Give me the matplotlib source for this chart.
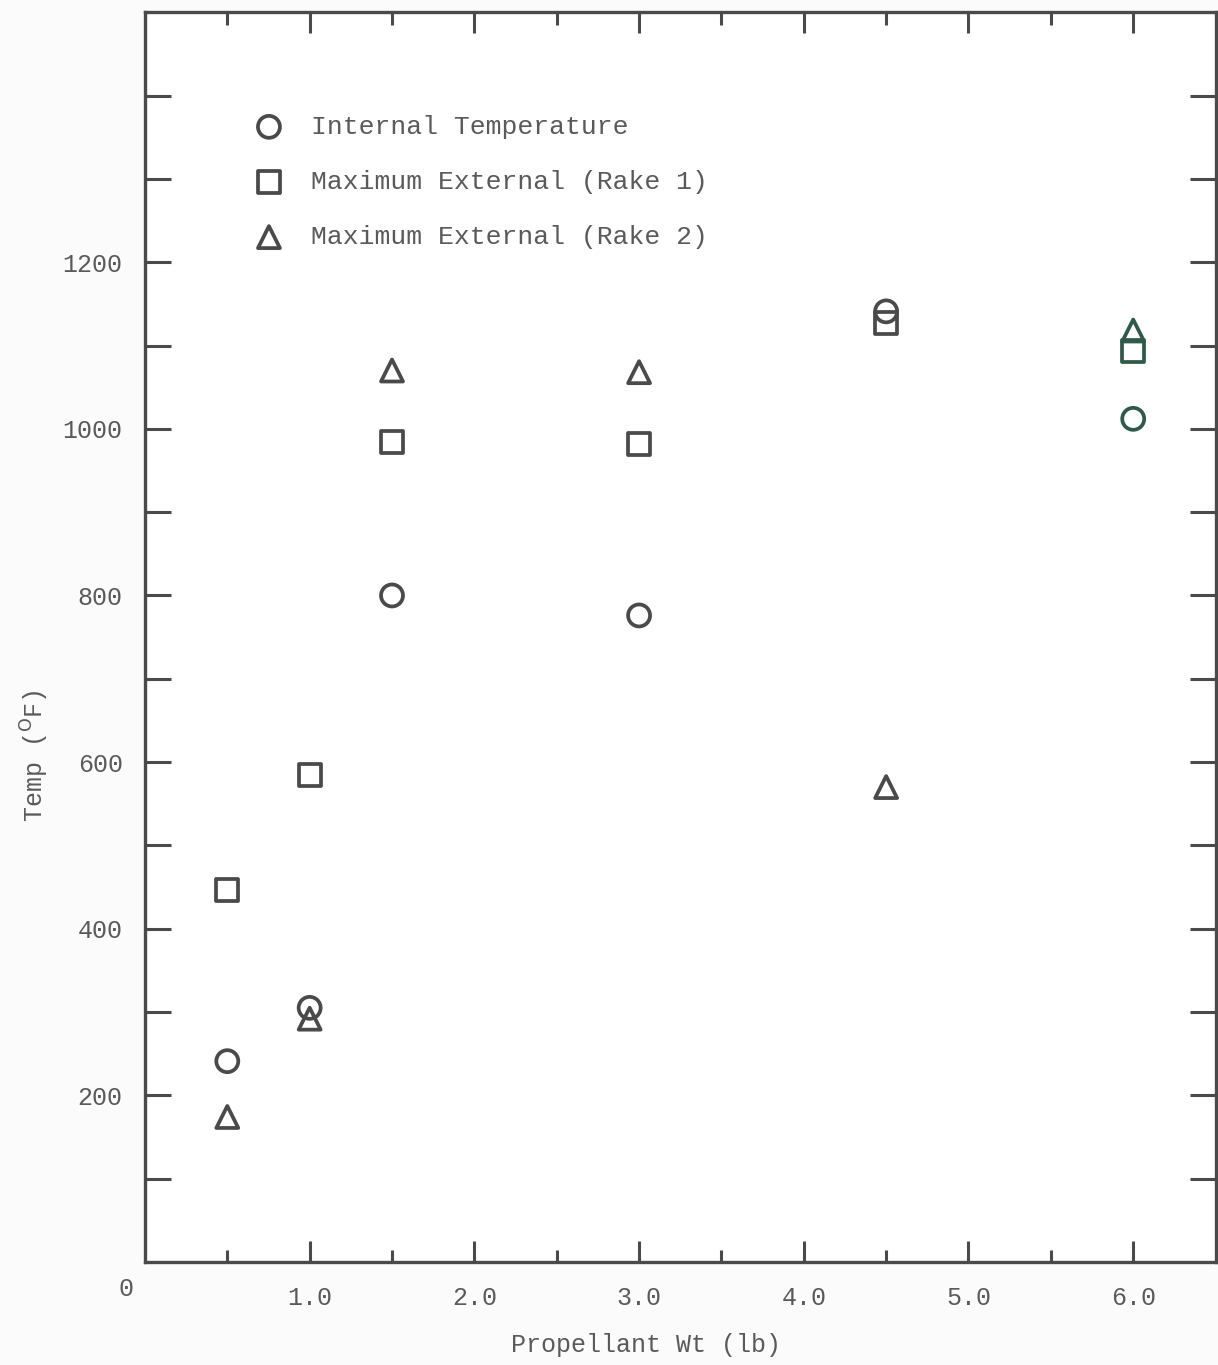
import matplotlib.pyplot as plt
import numpy as np

plt.rcParams['font.family'] = ['Liberation Mono', 'DejaVu Sans Mono']

wt = np.array([0.5, 1.0, 1.5, 3.0, 4.5, 6.0])
internal = np.array([241, 305, 800, 776, 1141, 1012])
rake1 = np.array([446, 584, 984, 982, 1127, 1094])
rake2 = np.array([174, 292, 1070, 1068, 570, 1118])
labels = ['Internal Temperature', 'Maximum External (Rake 1)', 'Maximum External (Rake 2)']
xticklabels = ['1.0', '2.0', '3.0', '4.0', '5.0', '6.0']

grey = '#4a4a4a'
green = '#2f5a4a'
txt = '#5a5a5a'
pt_colors = [grey, grey, grey, grey, grey, green]

fig = plt.figure(figsize=(12.18, 13.65), dpi=100)
ax = fig.add_axes([0.119, 0.0755, 0.879, 0.9155])

for y, m, lab in zip([internal, rake1, rake2], ['o', 's', '^'], labels):
    ax.scatter(wt, y, s=250, marker=m, facecolors='none', edgecolors=pt_colors,
               linewidths=2.7, label=lab, zorder=3)

ax.set_xlim(0, 6.5)
ax.set_ylim(0, 1500)

ax.set_xticks(np.arange(1, 7, 1.0))
ax.set_xticklabels(xticklabels)
ax.set_xticks(np.arange(0.5, 6.5, 1.0), minor=True)
yt = np.arange(100, 1500, 100)
ax.set_yticks(yt)
ax.set_yticklabels([str(v) if (v % 200 == 0 and v <= 1200) else '' for v in yt])

ax.tick_params(axis='x', which='major', direction='in', length=15, width=2.2,
               color=grey, labelsize=18, labelcolor=txt, pad=17, top=True)
ax.tick_params(axis='x', which='minor', direction='in', length=9, width=2.2,
               color=grey, top=True)
ax.tick_params(axis='y', which='major', direction='in', length=19, width=2.2,
               color=grey, labelsize=18, labelcolor=txt, pad=16, right=True)

for sp in ax.spines.values():
    sp.set_linewidth(2.4)
    sp.set_color(grey)

ax.text(-0.011, -0.012, '0', transform=ax.transAxes, ha='right', va='top',
        fontsize=18, color=txt)

ax.set_xlabel('Propellant Wt (lb)', fontsize=18, color=txt)
ax.xaxis.set_label_coords(0.468, -0.057)
ax.set_ylabel('Temp ($^{\\mathrm{O}}$F)', fontsize=18, color=txt)
ax.yaxis.set_label_coords(-0.088, 0.405)

leg = ax.legend(loc='upper left', bbox_to_anchor=(0.069, 0.937), frameon=False,
                fontsize=19, labelcolor=txt, handletextpad=0.6, labelspacing=1.18,
                markerscale=1.0)
for h in leg.legend_handles:
    h.set_edgecolor(grey)

fig.savefig('out.png', dpi=100, facecolor='#fbfbfb')
